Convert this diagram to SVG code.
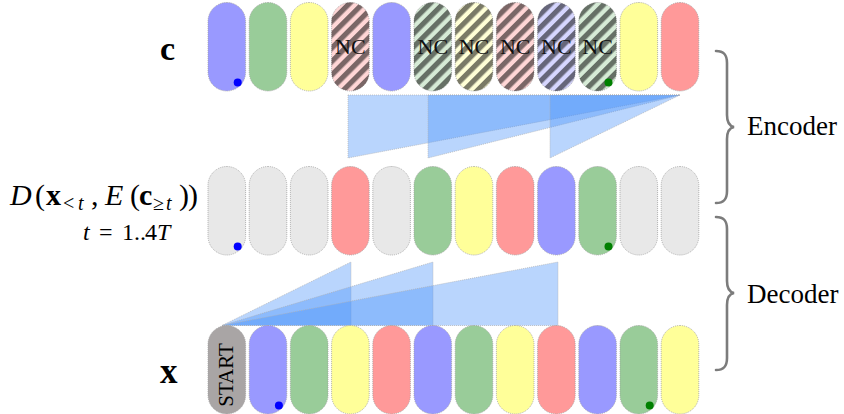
<svg xmlns="http://www.w3.org/2000/svg" width="844" height="414" viewBox="0 0 844 414">
<defs>
<pattern id="hatch" width="9.5" height="9.5" patternUnits="userSpaceOnUse" patternTransform="rotate(45)">
<rect x="0" y="0" width="5.2" height="9.5" fill="#000" fill-opacity="0.52"/>
</pattern>
</defs>
<style>
.pill{stroke:#a0a0a0;stroke-width:0.8;stroke-dasharray:1 1}
.b{fill:#9999ff}.g{fill:#99cc99}.y{fill:#ffff99}.r{fill:#ff9999}.e{fill:#e8e8e8}.s{fill:#a9a5a5}
.lb{fill:#d6d6ff}.lg{fill:#d6ebd6}.ly{fill:#ffffd6}.lr{fill:#ffd6d6}
.h{fill:url(#hatch)}
.nc{font-family:"Liberation Serif",serif;font-size:22px;fill:#111;text-anchor:middle}
.tri{fill:rgb(72,144,250);fill-opacity:0.38;stroke:#b0b0b0;stroke-width:0.7;stroke-dasharray:1 1}
.dotb{fill:#0000ff}.dotg{fill:#008000}
.brace{fill:none;stroke:#7c7c7c;stroke-width:2.6;stroke-linecap:round}
.lab{font-family:"Liberation Serif",serif;fill:#000}
.m{font-family:"Liberation Serif",serif;font-size:30px;fill:#000}
.sub{font-size:20px}
.t2{font-family:"Liberation Serif",serif;font-size:24px;fill:#000}
.it{font-style:italic}
.bd{font-weight:bold}
</style>

<!-- fans -->
<g id="connectors">
<polygon class="tri" points="348,95 680,95 348,158"/>
<polygon class="tri" points="428,95 680,95 428,158"/>
<polygon class="tri" points="550,95 680,95 550,158"/>
<polygon class="tri" points="222,325.5 351,325.5 351,262"/>
<polygon class="tri" points="222,325.5 433,325.5 433,262"/>
<polygon class="tri" points="222,325.5 558,325.5 558,262"/>
</g>

<!-- top row c -->
<g id="c0"><rect class="pill b" x="208" y="2.5" width="37.6" height="88.5" rx="18.8"/><circle class="dotb" cx="237.7" cy="82.5" r="4"/></g>
<g id="c1"><rect class="pill g" x="249.2" y="2.5" width="37.6" height="88.5" rx="18.8"/></g>
<g id="c2"><rect class="pill y" x="290.4" y="2.5" width="37.6" height="88.5" rx="18.8"/></g>
<g id="c3"><rect class="pill lr" x="331.6" y="2.5" width="37.6" height="88.5" rx="18.8"/><rect class="h" x="331.6" y="2.5" width="37.6" height="88.5" rx="18.8"/><text class="nc" x="350.4" y="54">NC</text></g>
<g id="c4"><rect class="pill b" x="372.8" y="2.5" width="37.6" height="88.5" rx="18.8"/></g>
<g id="c5"><rect class="pill lg" x="414" y="2.5" width="37.6" height="88.5" rx="18.8"/><rect class="h" x="414" y="2.5" width="37.6" height="88.5" rx="18.8"/><text class="nc" x="432.8" y="54">NC</text></g>
<g id="c6"><rect class="pill ly" x="455.2" y="2.5" width="37.6" height="88.5" rx="18.8"/><rect class="h" x="455.2" y="2.5" width="37.6" height="88.5" rx="18.8"/><text class="nc" x="474" y="54">NC</text></g>
<g id="c7"><rect class="pill lr" x="496.4" y="2.5" width="37.6" height="88.5" rx="18.8"/><rect class="h" x="496.4" y="2.5" width="37.6" height="88.5" rx="18.8"/><text class="nc" x="515.2" y="54">NC</text></g>
<g id="c8"><rect class="pill lb" x="537.6" y="2.5" width="37.6" height="88.5" rx="18.8"/><rect class="h" x="537.6" y="2.5" width="37.6" height="88.5" rx="18.8"/><text class="nc" x="556.4" y="54">NC</text></g>
<g id="c9"><rect class="pill lg" x="578.8" y="2.5" width="37.6" height="88.5" rx="18.8"/><rect class="h" x="578.8" y="2.5" width="37.6" height="88.5" rx="18.8"/><text class="nc" x="597.6" y="54">NC</text><circle class="dotg" cx="608.5" cy="82.5" r="4"/></g>
<g id="c10"><rect class="pill y" x="620" y="2.5" width="37.6" height="88.5" rx="18.8"/></g>
<g id="c11"><rect class="pill r" x="661.2" y="2.5" width="37.6" height="88.5" rx="18.8"/></g>

<!-- middle row -->
<g id="d0"><rect class="pill e" x="208" y="166.5" width="37.6" height="88.5" rx="18.8"/><circle class="dotb" cx="237.7" cy="246.5" r="4"/></g>
<g id="d1"><rect class="pill e" x="249.2" y="166.5" width="37.6" height="88.5" rx="18.8"/></g>
<g id="d2"><rect class="pill e" x="290.4" y="166.5" width="37.6" height="88.5" rx="18.8"/></g>
<g id="d3"><rect class="pill r" x="331.6" y="166.5" width="37.6" height="88.5" rx="18.8"/></g>
<g id="d4"><rect class="pill e" x="372.8" y="166.5" width="37.6" height="88.5" rx="18.8"/></g>
<g id="d5"><rect class="pill g" x="414" y="166.5" width="37.6" height="88.5" rx="18.8"/></g>
<g id="d6"><rect class="pill y" x="455.2" y="166.5" width="37.6" height="88.5" rx="18.8"/></g>
<g id="d7"><rect class="pill r" x="496.4" y="166.5" width="37.6" height="88.5" rx="18.8"/></g>
<g id="d8"><rect class="pill b" x="537.6" y="166.5" width="37.6" height="88.5" rx="18.8"/></g>
<g id="d9"><rect class="pill g" x="578.8" y="166.5" width="37.6" height="88.5" rx="18.8"/><circle class="dotg" cx="608.5" cy="246.5" r="4"/></g>
<g id="d10"><rect class="pill e" x="620" y="166.5" width="37.6" height="88.5" rx="18.8"/></g>
<g id="d11"><rect class="pill e" x="661.2" y="166.5" width="37.6" height="88.5" rx="18.8"/></g>

<!-- bottom row x -->
<g id="x0"><rect class="pill s" x="208" y="325.5" width="37.6" height="88.5" rx="18.8"/><text class="lab" font-size="21" text-anchor="middle" transform="translate(233,375) rotate(-90)">START</text></g>
<g id="x1"><rect class="pill b" x="249.2" y="325.5" width="37.6" height="88.5" rx="18.8"/><circle class="dotb" cx="278.9" cy="405.5" r="4"/></g>
<g id="x2"><rect class="pill g" x="290.4" y="325.5" width="37.6" height="88.5" rx="18.8"/></g>
<g id="x3"><rect class="pill y" x="331.6" y="325.5" width="37.6" height="88.5" rx="18.8"/></g>
<g id="x4"><rect class="pill r" x="372.8" y="325.5" width="37.6" height="88.5" rx="18.8"/></g>
<g id="x5"><rect class="pill b" x="414" y="325.5" width="37.6" height="88.5" rx="18.8"/></g>
<g id="x6"><rect class="pill g" x="455.2" y="325.5" width="37.6" height="88.5" rx="18.8"/></g>
<g id="x7"><rect class="pill y" x="496.4" y="325.5" width="37.6" height="88.5" rx="18.8"/></g>
<g id="x8"><rect class="pill r" x="537.6" y="325.5" width="37.6" height="88.5" rx="18.8"/></g>
<g id="x9"><rect class="pill b" x="578.8" y="325.5" width="37.6" height="88.5" rx="18.8"/></g>
<g id="x10"><rect class="pill g" x="620" y="325.5" width="37.6" height="88.5" rx="18.8"/><circle class="dotg" cx="649.7" cy="405.5" r="4"/></g>
<g id="x11"><rect class="pill y" x="661.2" y="325.5" width="37.6" height="88.5" rx="18.8"/></g>

<!-- row labels -->
<g id="label-c"><text class="lab bd" x="160" y="60" font-size="34">c</text></g>
<g id="label-x"><text class="lab bd" x="160" y="383" font-size="35">x</text></g>
<g id="label-D">
<text class="m"><tspan class="it" x="10" y="205">D</tspan><tspan x="35" y="205">(</tspan><tspan class="bd" x="46" y="205">x</tspan><tspan class="sub" x="63" y="210">&lt;</tspan><tspan class="sub it" x="78" y="210">t</tspan><tspan x="91" y="205">,</tspan><tspan class="it" x="105" y="205">E</tspan><tspan x="130" y="205">(</tspan><tspan class="bd" x="139" y="205">c</tspan><tspan class="sub" x="153" y="210">≥</tspan><tspan class="sub it" x="166" y="210">t</tspan><tspan x="179" y="205">)</tspan><tspan x="188" y="205">)</tspan></text>
<text class="t2"><tspan class="it" x="83" y="240">t</tspan><tspan x="99" y="240">=</tspan><tspan x="122" y="240">1</tspan><tspan x="134" y="240">..</tspan><tspan x="145" y="240">4</tspan><tspan class="it" x="157" y="240">T</tspan></text>
</g>

<!-- braces -->
<g id="encoder">
<path class="brace" d="M716 51 C724 51 727 55 727 63 L727 115 C727 122 729 126 734 127 C729 128 727 132 727 139 L727 191 C727 199 724 203 716 203"/>
<text class="lab" x="747" y="135" font-size="27">Encoder</text>
</g>
<g id="decoder">
<path class="brace" d="M716 217 C724 217 727 221 727 229 L727 281 C727 288 729 292 734 293 C729 294 727 298 727 305 L727 358 C727 366 724 370 716 370"/>
<text class="lab" x="747" y="303" font-size="27">Decoder</text>
</g>
</svg>
